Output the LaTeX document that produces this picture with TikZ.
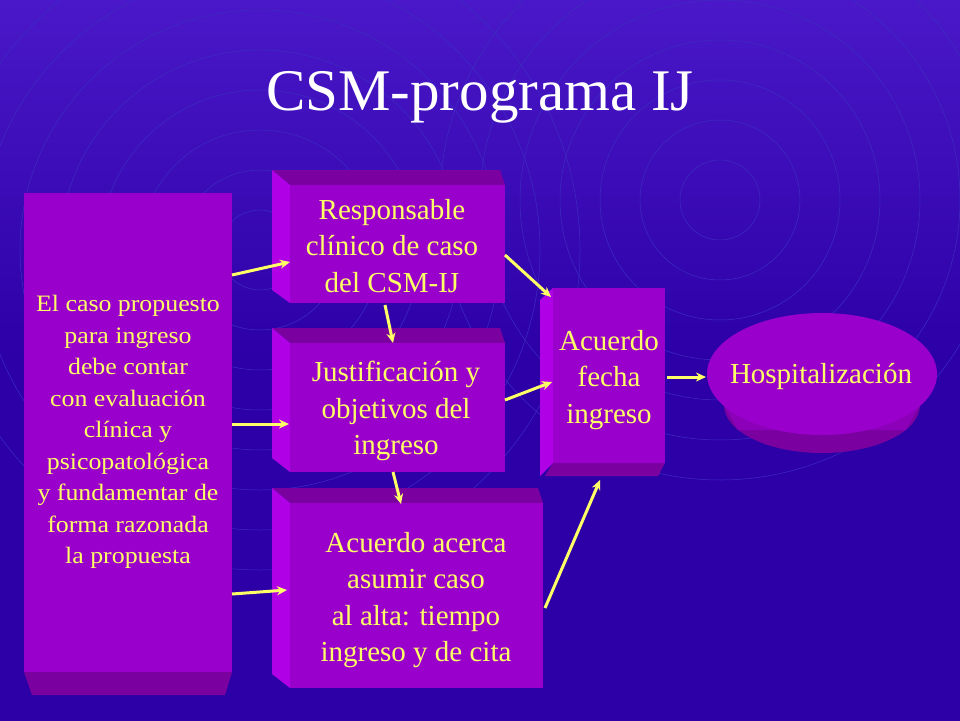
\documentclass[tikz,border=0pt]{standalone}
\usepackage{fontspec}
\setmainfont{Liberation Serif}
\begin{document}
\begin{tikzpicture}[x=1pt,y=-1pt,
  face/.style={fill=boxface},
  lbev/.style={fill=boxlight},
  dbev/.style={fill=boxdark},
  txt/.style={text=yel,align=center,font=\fontsize{29}{36.5}\selectfont},
  arr/.style={draw=yel,line width=3pt,-{Stealth[length=10pt,width=9pt]}}]
\usetikzlibrary{arrows.meta}
\definecolor{boxface}{HTML}{9A00CC}
\definecolor{boxlight}{HTML}{B000E6}
\definecolor{boxdark}{HTML}{7A00A0}
\definecolor{yel}{HTML}{FFFF66}
\definecolor{bgtop}{HTML}{4A18C8}
\definecolor{bgmid}{HTML}{2C00A6}
\definecolor{ring}{HTML}{3D2CC0}
\useasboundingbox (0,0) rectangle (960,720);
\shade[top color=bgtop,bottom color=bgmid,middle color=bgmid] (0,0) rectangle (960,720);
% faint rings
\begin{scope}
\clip (0,0) rectangle (960,720);
\foreach \r in {40,80,...,320} \draw[ring,line width=0.5pt] (260,250) circle (\r);
\foreach \r in {40,80,...,280} \draw[ring,line width=0.5pt] (720,200) circle (\r);
\end{scope}
\node[text=white,font=\fontsize{59}{64}\selectfont] (title) at (480,97) {CSM-programa IJ};
% left box
\fill[dbev] (24,672) -- (232,672) -- (225,695) -- (32,695) -- cycle;
\fill[face] (24,193) rectangle (232,672);
\node[text=yel,align=center,xscale=1.1,font=\fontsize{23.5}{31.5}\selectfont] (left) at (128,432) {El caso propuesto\\para ingreso\\debe contar\\con evaluación\\clínica y\\psicopatológica\\y fundamentar de\\forma razonada\\la propuesta};
% box 1
\fill[dbev] (272,170) -- (500,170) -- (505,185) -- (290,185) -- cycle;
\fill[lbev] (272,170) -- (290,185) -- (290,303) -- (272,290) -- cycle;
\fill[face] (290,185) rectangle (505,303);
\node[txt] (b1) at (392,246) {Responsable\\clínico de caso\\del CSM-IJ};
% box 2
\fill[dbev] (272,328) -- (500,328) -- (505,343) -- (290,343) -- cycle;
\fill[lbev] (272,328) -- (290,343) -- (290,472) -- (272,458) -- cycle;
\fill[face] (290,343) rectangle (505,472);
\node[txt] (b2) at (396,411) {Justificación y\\objetivos del\\ingreso};
% box 3
\fill[dbev] (272,488) -- (538,488) -- (543,503) -- (290,503) -- cycle;
\fill[lbev] (272,488) -- (290,503) -- (290,688) -- (272,674) -- cycle;
\fill[face] (290,503) rectangle (543,688);
\node[txt] (b3) at (416,600) {Acuerdo acerca\\asumir caso\\al alta: tiempo\\ingreso y de cita};
% box 4
\fill[dbev] (553,463) -- (665,463) -- (658,476) -- (545,476) -- cycle;
\fill[lbev] (540,300) -- (553,288) -- (553,463) -- (540,476) -- cycle;
\fill[face] (553,288) rectangle (665,463);
\node[txt] (b4) at (609,380) {Acuerdo\\fecha\\ingreso};
% ellipse
\fill[boxdark] (822,405) ellipse (98 and 48);
\fill[boxface!90!black] (707,375) -- (738,430) -- (906,430) -- (937,375) -- cycle;
\fill[boxface] (822,374) ellipse (115 and 61);
\node[txt] (hosp) at (821,376) {Hospitalización};
% arrows
\coordinate (a1s) at (232,275); \coordinate (a1e) at (290,262);
\coordinate (a2s) at (385,305); \coordinate (a2e) at (393,343);
\coordinate (a3s) at (505,255); \coordinate (a3e) at (551,297);
\coordinate (a4s) at (232,424); \coordinate (a4e) at (289,424);
\coordinate (a5s) at (505,400); \coordinate (a5e) at (552,382);
\coordinate (a6s) at (393,472); \coordinate (a6e) at (401,504);
\coordinate (a7s) at (232,594); \coordinate (a7e) at (287,590);
\coordinate (a8s) at (545,608); \coordinate (a8e) at (600,480);
\coordinate (a9s) at (667,377); \coordinate (a9e) at (706,377);
\foreach \i in {1,...,9} \draw[arr] (a\i s) -- (a\i e);
\end{tikzpicture}
\end{document}
